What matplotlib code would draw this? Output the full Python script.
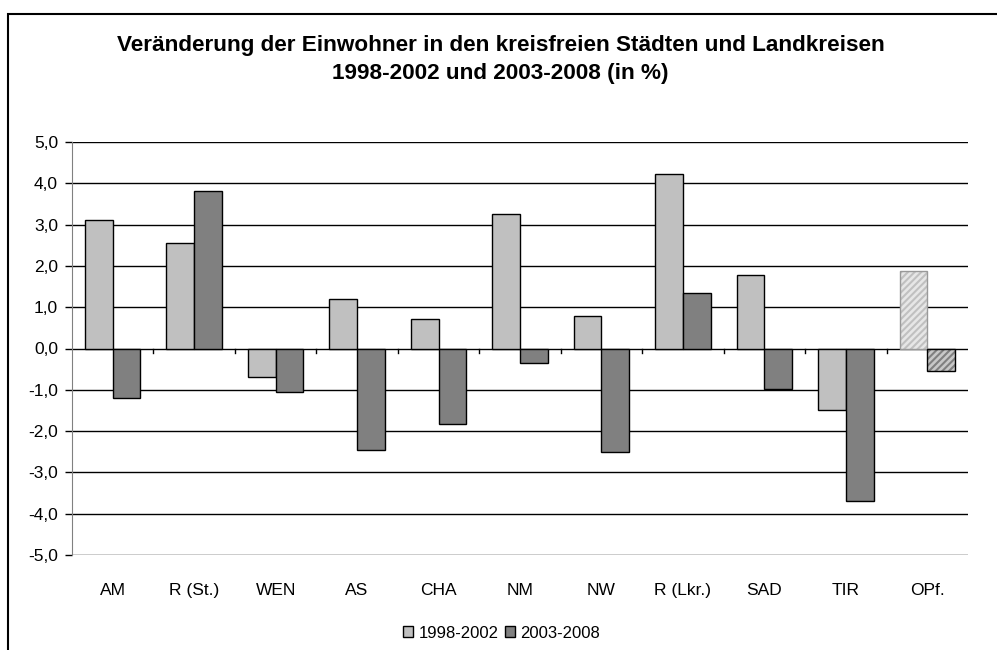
import matplotlib.pyplot as plt
import numpy as np
from matplotlib.patches import Rectangle

plt.rcParams["font.family"] = ["Liberation Sans", "DejaVu Sans"]

# data
kreise = ["AM", "R (St.)", "WEN", "AS", "CHA", "NM", "NW", "R (Lkr.)", "SAD", "TIR", "OPf."]
v_1998_2002 = [3.1, 2.55, -0.7, 1.2, 0.72, 3.25, 0.78, 4.22, 1.78, -1.5, 1.88]
v_2003_2008 = [-1.2, 3.82, -1.05, -2.45, -1.82, -0.35, -2.5, 1.35, -0.98, -3.7, -0.55]
yticks = np.arange(-5, 6, 1)

fig = plt.figure(figsize=(9.97, 6.5), dpi=100)
ax = fig.add_axes([72 / 997, 1 - 555 / 650, (968 - 72) / 997, (555 - 142) / 650])

x = np.arange(len(kreise))
w = 0.34
n = len(kreise) - 1  # last one (OPf.) is drawn hatched

ax.bar(x[:n] - w / 2, v_1998_2002[:n], w, color="#c0c0c0", edgecolor="black", linewidth=1, zorder=3)
ax.bar(x[:n] + w / 2, v_2003_2008[:n], w, color="#808080", edgecolor="black", linewidth=1, zorder=3)

# Oberpfalz gesamt, schraffiert
plt.rcParams["hatch.linewidth"] = 1.5
ax.bar(x[n] - w / 2, v_1998_2002[n], w, color="#e6e6e6", edgecolor="#c0c0c0", hatch="/////", linewidth=0, zorder=3)
ax.bar(x[n] - w / 2, v_1998_2002[n], w, fill=False, edgecolor="#999999", linewidth=1, zorder=4)
ax.bar(x[n] + w / 2, v_2003_2008[n], w, color="#c8c8c8", edgecolor="#808080", hatch="/////", linewidth=0, zorder=3)
ax.bar(x[n] + w / 2, v_2003_2008[n], w, fill=False, edgecolor="black", linewidth=1, zorder=4)

ax.set_xlim(-0.5, len(kreise) - 0.5)
ax.set_ylim(-5, 5)
ax.set_yticks(yticks)
ax.set_yticklabels([f"{v:.1f}".replace(".", ",") for v in yticks], fontsize=12.5)
ax.set_xticks(x)
ax.set_xticklabels(kreise, fontsize=12.5)
ax.tick_params(axis="x", length=0, pad=20)
ax.tick_params(axis="y", length=5, width=1, color="black", direction="out", pad=5)

for y in yticks:
    ax.axhline(y, color="black", linewidth=1, zorder=1)

# kleine Teilstriche auf der Nulllinie
for b in np.arange(0.5, len(kreise) - 0.5, 1):
    ax.plot([b, b], [0, -0.12], color="black", linewidth=1, zorder=2)

for s in ["top", "right", "bottom"]:
    ax.spines[s].set_visible(False)
ax.spines["left"].set_color("#808080")

fig.text(0.502, 1 - 45 / 650, "Veränderung der Einwohner in den kreisfreien Städten und Landkreisen",
         ha="center", va="center", fontsize=16.2, fontweight="bold")
fig.text(0.502, 1 - 73 / 650, "1998-2002 und 2003-2008 (in %)",
         ha="center", va="center", fontsize=16.2, fontweight="bold")

# legende
h1 = Rectangle((0, 0), 1, 1, facecolor="#c0c0c0", edgecolor="black")
h2 = Rectangle((0, 0), 1, 1, facecolor="#808080", edgecolor="black")
fig.legend([h1, h2], ["1998-2002", "2003-2008"], loc="center", bbox_to_anchor=(0.503, 1 - 633 / 650),
           ncol=2, frameon=False, fontsize=12, handlelength=0.6, handleheight=0.6,
           handletextpad=0.3, columnspacing=0.4)

# rahmen
fig.patches.append(Rectangle((8 / 997, -0.05), 1.1, 1 - 14 / 650 + 0.05, transform=fig.transFigure,
                             fill=False, edgecolor="black", linewidth=1.5))

fig.savefig("out.png", dpi=100)
